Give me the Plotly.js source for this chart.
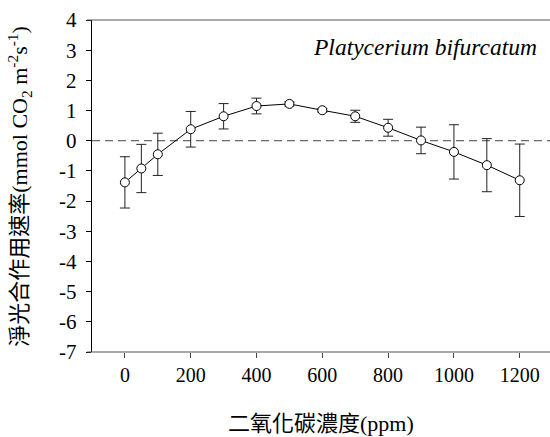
<!DOCTYPE html>
<html><head><meta charset="utf-8">
<script src="https://cdn.plot.ly/plotly-3.0.1.min.js"></script>
<style>html,body{margin:0;padding:0;background:#fff}#c{width:550px;height:437px}</style>
</head><body><div id="c"></div>
<script>
const co2 = [0, 50, 100, 200, 300, 400, 500, 600, 700, 800, 900, 1000, 1100, 1200];
const rate = [-1.38, -0.92, -0.45, 0.38, 0.81, 1.15, 1.22, 1.01, 0.81, 0.43, 0.01, -0.37, -0.81, -1.31];
const errs = [0.85, 0.8, 0.7, 0.59, 0.42, 0.26, 0.07, 0.06, 0.2, 0.28, 0.44, 0.9, 0.88, 1.2];
const xTicks = [0, 200, 400, 600, 800, 1000, 1200];
const yTicks = [4, 3, 2, 1, 0, -1, -2, -3, -4, -5, -6, -7];

const serif = 'Liberation Serif, DejaVu Serif, serif';
const serifCJK = 'Liberation Serif, Noto Sans CJK TC, serif';
const trace = {
  x: co2, y: rate, type: 'scatter', mode: 'lines+markers',
  line: {color: '#000', width: 1},
  marker: {symbol: 'circle', size: 9, color: '#fff', line: {color: '#000', width: 1}},
  error_y: {type: 'data', array: errs, visible: true, color: '#222', thickness: 1, width: 5},
  showlegend: false, cliponaxis: false
};
const layout = {
  width: 550, height: 437,
  margin: {l: 92, r: 0, t: 20, b: 85},
  paper_bgcolor: '#fff', plot_bgcolor: '#fff',
  font: {family: serif, size: 20, color: '#000'},
  xaxis: {
    range: [-100, 1292], tickvals: xTicks, ticktext: xTicks.map(String),
    showgrid: false, zeroline: false, showline: false,
    ticks: 'outside', ticklen: 5, tickcolor: '#444', tickwidth: 1,
    tickfont: {family: serif, size: 20, color: '#000'}
  },
  yaxis: {
    range: [-7, 4], tickvals: yTicks, ticktext: yTicks.map(v => String(v) + '\u00a0'),
    showgrid: false, zeroline: false, showline: true, linecolor: '#000', linewidth: 1,
    ticks: 'outside', ticklen: 5, tickcolor: '#000', tickwidth: 1,
    tickfont: {family: serif, size: 21, color: '#000'}
  },
  shapes: [
    {type: 'line', xref: 'paper', yref: 'y', x0: 0, x1: 1, y0: 0, y1: 0,
     line: {color: '#444', width: 1, dash: '8px,5px'}, layer: 'below'},
    {type: 'line', xref: 'paper', yref: 'paper', x0: -0.011, x1: 1, y0: 1, y1: 1,
     line: {color: '#555', width: 1}},
    {type: 'line', xref: 'paper', yref: 'paper', x0: -0.011, x1: 1, y0: 0, y1: 0,
     line: {color: '#555', width: 1}}
  ],
  annotations: [
    {text: '<i>Platycerium bifurcatum</i>', xref: 'paper', yref: 'paper',
     x: 0.975, y: 0.92, xanchor: 'right', yanchor: 'middle', showarrow: false,
     font: {family: serif, size: 23.5, color: '#000'}},
    {text: '二氧化碳濃度(ppm)', xref: 'paper', yref: 'paper',
     x: 0.5, y: -0.214, xanchor: 'center', yanchor: 'middle', showarrow: false,
     font: {family: serifCJK, size: 22, color: '#000'}},
    {text: '淨光合作用速率(mmol CO<sub>2</sub> m<sup>-2</sup>s<sup>-1</sup>)', xref: 'paper', yref: 'paper',
     x: -0.16, y: 0.5, xanchor: 'center', yanchor: 'middle', showarrow: false, textangle: -90,
     font: {family: serifCJK, size: 22, color: '#000'}}
  ]
};
Plotly.newPlot('c', [trace], layout, {staticPlot: true, displayModeBar: false});
</script></body></html>
